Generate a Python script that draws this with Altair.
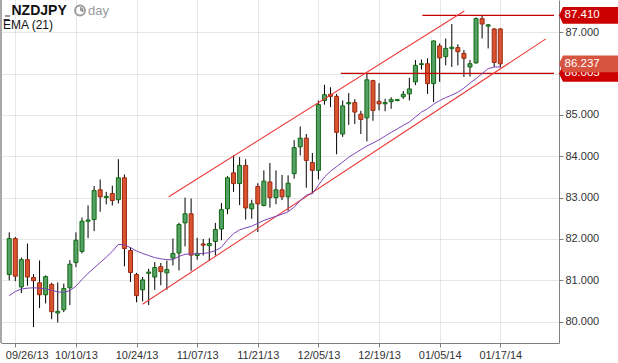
import altair as alt
import pandas as pd

# ---------------- data ----------------
tick_bars = [1, 11, 21, 31, 41, 51, 61, 71, 81]
tick_labels = ["09/26/13", "10/10/13", "10/24/13", "11/07/13", "11/21/13",
               "12/05/13", "12/19/13", "01/05/14", "01/17/14"]

opens = [81.14, 82.01, 80.84, 81.50, 81.07, 80.94, 80.65, 80.90, 80.21, 80.29,
         80.82, 81.43, 81.70, 82.43, 82.47, 83.19, 83.00, 83.10, 82.95, 83.48,
         81.72, 81.14, 80.77, 81.17, 81.08, 81.33, 81.18, 81.54, 81.66, 82.39,
         82.61, 81.60, 81.88, 81.84, 81.94, 82.24, 82.73, 83.60, 83.34, 83.78,
         82.73, 83.27, 82.81, 83.38, 83.00, 83.19, 83.02, 83.58, 84.23, 84.44,
         83.85, 83.66, 85.35, 85.50, 85.45, 84.54, 85.27, 85.30, 85.02, 84.93,
         85.83, 85.33, 85.27, 85.32, 85.35, 85.44, 85.51, 85.80, 86.22, 86.24,
         85.76, 86.67, 86.41, 86.61, 86.63, 86.49, 86.16, 86.26, 87.33, 87.15,
         87.08, 87.08]
highs = [82.16, 82.05, 81.55, 81.89, 81.15, 81.48, 81.12, 80.94, 80.95, 80.92,
         81.49, 82.16, 82.52, 82.81, 83.28, 83.44, 83.14, 83.29, 83.93, 83.56,
         81.80, 81.18, 81.08, 81.28, 81.44, 81.42, 81.48, 82.01, 82.39, 83.00,
         82.98, 82.03, 82.00, 82.02, 82.39, 82.87, 83.52, 84.02, 83.98, 83.93,
         82.95, 83.35, 83.66, 83.84, 83.66, 83.55, 83.54, 84.39, 84.72, 84.54,
         84.08, 85.35, 85.73, 85.67, 85.51, 85.35, 85.53, 85.38, 85.10, 86.00,
         85.85, 85.77, 85.39, 85.43, 85.39, 85.58, 85.90, 86.33, 86.34, 86.37,
         86.80, 86.73, 86.85, 87.20, 86.71, 86.57, 86.33, 87.36, 87.42, 87.20,
         87.10, 87.10]
lows = [81.00, 80.98, 80.69, 80.87, 79.87, 80.33, 80.44, 80.06, 79.98, 80.23,
        80.40, 81.32, 81.65, 82.02, 82.19, 82.66, 82.84, 82.81, 82.86, 81.34,
        80.96, 80.47, 80.49, 80.40, 80.77, 80.88, 80.77, 81.36, 81.24, 81.82,
        81.23, 81.50, 81.60, 81.47, 81.60, 81.97, 82.60, 83.14, 82.82, 82.47,
        82.49, 82.17, 82.79, 82.76, 82.84, 82.94, 82.68, 83.46, 84.02, 83.24,
        83.09, 83.44, 85.25, 85.19, 84.05, 84.47, 84.76, 84.78, 84.54, 84.36,
        84.86, 85.11, 85.09, 85.15, 85.33, 85.39, 85.35, 85.72, 86.10, 85.51,
        85.31, 85.80, 86.20, 86.16, 86.20, 85.92, 85.93, 86.24, 86.85, 86.61,
        86.16, 86.15]
closes = [82.01, 81.10, 81.50, 81.08, 80.99, 80.65, 81.09, 80.24, 80.25, 80.80,
          81.39, 81.97, 82.43, 82.46, 83.17, 83.02, 83.03, 82.93, 83.48, 81.77,
          81.19, 80.63, 81.01, 81.20, 81.31, 81.21, 81.26, 81.65, 82.35, 82.61,
          81.61, 81.65, 81.85, 81.89, 82.23, 82.71, 83.48, 83.34, 83.78, 82.75,
          82.85, 82.85, 83.40, 83.00, 83.19, 83.02, 83.35, 84.21, 84.44, 83.90,
          83.66, 85.25, 85.49, 85.45, 84.58, 85.22, 85.30, 85.07, 84.89, 85.85,
          85.11, 85.27, 85.30, 85.37, 85.37, 85.50, 85.63, 86.20, 86.24, 85.76,
          86.79, 86.38, 86.61, 86.64, 86.53, 86.37, 86.24, 87.33, 87.20, 87.18,
          86.27, 86.237]
ema21 = [80.63, 80.73, 80.79, 80.81, 80.82, 80.81, 80.79, 80.76, 80.72, 80.71,
         80.75, 80.86, 81.02, 81.17, 81.30, 81.43, 81.56, 81.70, 81.87, 81.86,
         81.79, 81.71, 81.65, 81.60, 81.55, 81.52, 81.50, 81.50, 81.58, 81.63,
         81.64, 81.64, 81.65, 81.67, 81.72, 81.80, 81.98, 82.13, 82.22, 82.27,
         82.31, 82.38, 82.45, 82.50, 82.55, 82.60, 82.66, 82.77, 82.93, 83.06,
         83.10, 83.30, 83.50, 83.64, 83.75, 83.86, 83.98, 84.07, 84.16, 84.25,
         84.32, 84.40, 84.49, 84.58, 84.66, 84.75, 84.83, 84.95, 85.07, 85.15,
         85.26, 85.35, 85.42, 85.48, 85.55, 85.65, 85.77, 85.88, 86.00, 86.12,
         86.16, 86.16]

# trend channel: (bar, price) end points
channel_names = ["upper", "upper", "lower", "lower"]
channel_bars = [26.31, 75.07, 21.98, 88.51]
channel_prices = [83.02, 87.515, 80.42, 86.84]

# horizontal levels
level_prices = [87.41, 86.005]
level_start_bars = [68.15, 54.7]

# price boxes on the right axis
box_prices = [87.41, 86.005, 86.237]
box_texts = ["87.410", "86.005", "86.237"]
box_colors = ["#cc0000", "#cc0000", "#d6533f"]

y_ticks = [80, 81, 82, 83, 84, 85, 86, 87]

# ---------------- build chart ----------------
X_DOMAIN = [-0.535, 89.86]
Y_DOMAIN = [79.484, 87.781]
FONT = "Liberation Sans"
GRID = "#c8cfc8"

n = len(opens)
df = pd.DataFrame({
    "bar": list(range(n)), "open": opens, "high": highs,
    "low": lows, "close": closes, "ema": ema21,
})
df["dir"] = ["up" if c >= o else "down" for o, c in zip(opens, closes)]

label_expr = " : ".join(
    f"datum.value == {b} ? '{t}'" for b, t in zip(tick_bars, tick_labels)
) + " : ''"

xscale = alt.Scale(domain=X_DOMAIN, nice=False, zero=False)
yscale = alt.Scale(domain=Y_DOMAIN, nice=False, zero=False)

xaxis = alt.Axis(values=tick_bars, labelExpr=label_expr, grid=True,
                 gridColor=GRID, gridDash=[1, 1], domainColor="#808080",
                 tickColor="#808080", tickSize=4, labelColor="#333333",
                 labelFont=FONT, labelFontSize=11, labelPadding=2,
                 labelFlush=15, labelFlushOffset=10, labelOverlap=False,
                 title=None)
yaxis = alt.Axis(orient="right", values=y_ticks, format=".3f", grid=True,
                 gridColor=GRID, gridDash=[1, 1], domainColor="#808080",
                 tickColor="#808080", tickSize=4, labelColor="#333333",
                 labelFont=FONT, labelFontSize=11, labelPadding=2,
                 title=None)


def X(field):
    return alt.X(field, type="quantitative", scale=xscale, axis=xaxis, title=None)


def Y(field):
    return alt.Y(field, type="quantitative", scale=yscale, axis=yaxis, title=None)


base = alt.Chart(df)

wicks = base.mark_rule(color="#000000", strokeWidth=1).encode(
    x=X("bar"), y=Y("low"), y2="high")

bodies = base.mark_bar(size=4, strokeWidth=1).encode(
    x=X("bar"), y=Y("open"), y2="close",
    fill=alt.Fill("dir:N", scale=alt.Scale(domain=["up", "down"],
                                           range=["#55a066", "#d9532f"]), legend=None),
    stroke=alt.Stroke("dir:N", scale=alt.Scale(domain=["up", "down"],
                                               range=["#106a10", "#9a2a12"]), legend=None),
)

ema_line = base.mark_line(color="#7d45b5", strokeWidth=1, clip=True).encode(
    x=X("bar"), y=Y("ema"))

ch_df = pd.DataFrame({"name": channel_names, "bar": channel_bars, "price": channel_prices})
channel = alt.Chart(ch_df).mark_line(color="#ec3a3a", strokeWidth=1.1, clip=True).encode(
    x=X("bar"), y=Y("price"), detail="name:N")

lv_df = pd.DataFrame({"price": level_prices, "start": level_start_bars,
                      "end": [X_DOMAIN[1]] * len(level_prices)})
levels = alt.Chart(lv_df).mark_rule(color="#c40000", strokeWidth=1.2).encode(
    x=X("start"), x2="end", y=Y("price"))

left_border = alt.Chart(df).mark_rule(color="#a8a8a8", strokeWidth=1.5).encode(
    x=alt.value(0), y=alt.value(0), y2=alt.value(343))

BOX_PATH = "M-1,0L-0.865,-0.285L1,-0.285L1,0.285L-0.865,0.285Z"
box_layers = []
for p, t, c in zip(box_prices, box_texts, box_colors):
    bdf = pd.DataFrame({"price": [p], "label": [t]})
    box = alt.Chart(bdf).mark_point(shape=BOX_PATH, size=3481, filled=True,
                                    opacity=1, fill=c, strokeWidth=0).encode(
        x=alt.value(587.5), y=Y("price"))
    txt = alt.Chart(bdf).mark_text(align="left", baseline="middle", color="#ffffff",
                                   font=FONT, fontSize=11.5).encode(
        x=alt.value(563.5), y=Y("price"), text="label:N")
    box_layers += [box, txt]

one = alt.Chart(pd.DataFrame({"k": [0]}))
title_txt = one.mark_text(text="NZDJPY", align="left", baseline="middle",
                          font=FONT, fontSize=14, fontWeight="bold",
                          color="#111111").encode(x=alt.value(10.5), y=alt.value(10.5))
day_txt = one.mark_text(text="day", align="left", baseline="middle",
                        font=FONT, fontSize=13, color="#9a9a9a").encode(
    x=alt.value(87), y=alt.value(11))
ema_txt = one.mark_text(text="EMA (21)", align="left", baseline="middle",
                        font=FONT, fontSize=12, color="#111111").encode(
    x=alt.value(2), y=alt.value(24.5))
dash1 = one.mark_rule(color="#333333", strokeWidth=1).encode(
    x=alt.value(4), x2=alt.value(9), y=alt.value(16))
dash2 = one.mark_rule(color="#333333", strokeWidth=1).encode(
    x=alt.value(2.5), x2=alt.value(8.5), y=alt.value(19.5))
clock_ring = one.mark_point(shape="circle", filled=False, color="#9a9a9a",
                            strokeWidth=1.8, size=100, opacity=1).encode(
    x=alt.value(79), y=alt.value(10.5))
clock_wedge = one.mark_arc(radius=3.6, theta=0, theta2=2.2, color="#9a9a9a").encode(
    x=alt.value(79), y=alt.value(10.5))

chart = alt.layer(
    left_border, wicks, bodies, levels, channel, ema_line, *box_layers,
    title_txt, day_txt, ema_txt, dash1, dash2, clock_ring, clock_wedge,
).properties(
    width=558, height=343,
    padding={"left": 1, "top": 0, "right": 59, "bottom": 20},
    autosize=alt.AutoSizeParams(type="none"),
    background="#ffffff",
).configure_view(stroke=None)

chart.save("out.html", embed_options={"renderer": "svg", "actions": False})
